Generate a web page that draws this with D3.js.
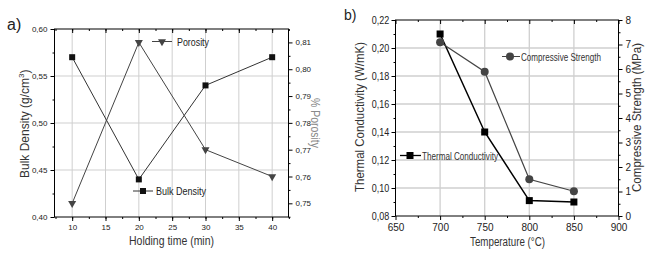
<!DOCTYPE html>
<html><head><meta charset="utf-8">
<script src="https://cdn.jsdelivr.net/npm/d3@7"></script>
<style>body{margin:0;background:#fff}svg{display:block}</style>
</head><body>
<script>
// Panel a data
const holdTime = [10, 20, 30, 40];
const bulkDensity = [0.57, 0.44, 0.54, 0.57];
const porosity = [0.75, 0.81, 0.77, 0.76];
const aXTicks = [10, 15, 20, 25, 30, 35, 40];
const aYTicks = [0.40, 0.45, 0.50, 0.55, 0.60];
const aY2Ticks = [0.75, 0.76, 0.77, 0.78, 0.79, 0.80, 0.81];
// Panel b data
const temperature = [700, 750, 800, 850];
const thermalCond = [0.210, 0.140, 0.091, 0.090];
const compStrength = [7.09, 5.89, 1.50, 1.01];
const bXTicks = [650, 700, 750, 800, 850, 900];
const bYTicks = [0.08, 0.10, 0.12, 0.14, 0.16, 0.18, 0.20, 0.22];
const bY2Ticks = [0, 1, 2, 3, 4, 5, 6, 7, 8];

const FONT = '"Liberation Sans", Arial, sans-serif';
const svg = d3.select("body").append("svg").attr("width", 650).attr("height", 258)
  .style("font-family", FONT);
const fmt = d => d3.format(".2f")(d).replace(".", ",");

function squeeze(sel, len) {
  return sel.attr("textLength", len).attr("lengthAdjust", "spacingAndGlyphs");
}

// ---------- Panel a ----------
{
  const L = 54.5, R = 288.5, T = 29, B = 217;
  const x = d3.scaleLinear().domain([7.35, 42.45]).range([L, R]);
  const y = d3.scaleLinear().domain([0.40, 0.60]).range([B, T]);
  const y2 = d3.scaleLinear().domain([0.7449, 0.815]).range([B, T]);
  const g = svg.append("g");
  g.selectAll(".vg").data(aXTicks).join("line").attr("x1", d => x(d)).attr("x2", d => x(d))
    .attr("y1", T).attr("y2", B).attr("stroke", "#cfcfcf").attr("stroke-width", 1);
  g.selectAll(".hg").data([0.45, 0.50, 0.55]).join("line").attr("y1", d => y(d)).attr("y2", d => y(d))
    .attr("x1", L).attr("x2", R).attr("stroke", "#cfcfcf").attr("stroke-width", 1);
  g.append("rect").attr("x", L).attr("y", T).attr("width", R - L).attr("height", B - T)
    .attr("fill", "none").attr("stroke", "#000").attr("stroke-width", 1);
  const xMinor = d3.range(7.5, 42.6, 2.5);
  const ax = g.append("g").attr("transform", `translate(0,${B})`)
    .call(d3.axisBottom(x).tickValues(aXTicks).tickSize(4).tickFormat(d3.format("d")));
  ax.select(".domain").remove();
  g.append("g").attr("transform", `translate(0,${B})`).call(d3.axisBottom(x).tickValues(xMinor).tickSize(2).tickFormat(""))
    .select(".domain").remove();
  g.append("g").attr("transform", `translate(0,${T})`).call(d3.axisBottom(x).tickValues(aXTicks).tickSize(4).tickFormat(""))
    .select(".domain").remove();
  g.append("g").attr("transform", `translate(0,${T})`).call(d3.axisBottom(x).tickValues(xMinor).tickSize(2).tickFormat(""))
    .select(".domain").remove();
  const ay = g.append("g").attr("transform", `translate(${L},0)`)
    .call(d3.axisLeft(y).tickValues(aYTicks).tickSize(4).tickFormat(fmt));
  ay.select(".domain").remove();
  g.append("g").attr("transform", `translate(${L},0)`).call(d3.axisLeft(y).tickValues([0.425, 0.475, 0.525, 0.575]).tickSize(2).tickFormat(""))
    .select(".domain").remove();
  const ay2 = g.append("g").attr("transform", `translate(${R},0)`)
    .call(d3.axisRight(y2).tickValues(aY2Ticks).tickSize(4).tickFormat(fmt));
  ay2.select(".domain").remove();
  g.append("g").attr("transform", `translate(${R},0)`).call(d3.axisRight(y2).tickValues(d3.range(0.745, 0.815, 0.01)).tickSize(2).tickFormat(""))
    .select(".domain").remove();
  g.selectAll(".tick text").attr("font-size", 8).attr("fill", "#222").style("font-family", FONT);
  ax.selectAll(".tick text").attr("dy", "0.72em");
  const lineB = d3.line().x((d, i) => x(holdTime[i])).y(d => y(d));
  g.append("path").attr("d", lineB(bulkDensity)).attr("fill", "none").attr("stroke", "#333").attr("stroke-width", 1);
  const lineP = d3.line().x((d, i) => x(holdTime[i])).y(d => y2(d));
  g.append("path").attr("d", lineP(porosity)).attr("fill", "none").attr("stroke", "#444").attr("stroke-width", 1);
  g.selectAll(".sq").data(bulkDensity).join("rect").attr("x", (d, i) => x(holdTime[i]) - 3).attr("y", d => y(d) - 3)
    .attr("width", 6).attr("height", 6).attr("fill", "#111");
  const tri = d3.symbol().type(d3.symbolTriangle).size(28);
  g.selectAll(".tr").data(porosity).join("path").attr("d", tri)
    .attr("transform", (d, i) => `translate(${x(holdTime[i])},${y2(d)}) rotate(180)`).attr("fill", "#444");
  // legends
  g.append("line").attr("x1", 152).attr("x2", 172).attr("y1", 41.5).attr("y2", 41.5).attr("stroke", "#444");
  g.append("path").attr("d", tri).attr("transform", "translate(162,41.5) rotate(180)").attr("fill", "#444");
  squeeze(g.append("text").attr("x", 177).attr("y", 45.5).attr("font-size", 11.5).attr("fill", "#222").text("Porosity"), 32);
  g.append("line").attr("x1", 133).attr("x2", 153).attr("y1", 191).attr("y2", 191).attr("stroke", "#333");
  g.append("rect").attr("x", 140).attr("y", 188).attr("width", 6).attr("height", 6).attr("fill", "#111");
  squeeze(g.append("text").attr("x", 156).attr("y", 195).attr("font-size", 11.5).attr("fill", "#222").text("Bulk Density"), 50);
  // titles
  squeeze(g.append("text").attr("x", 129).attr("y", 245).attr("font-size", 12).attr("fill", "#333").text("Holding time (min)"), 85);
  const yt = g.append("text").attr("transform", "translate(29,178) rotate(-90)").attr("font-size", 12).attr("fill", "#333");
  yt.append("tspan").text("Bulk Density (g/cm");
  yt.append("tspan").attr("font-size", 8).attr("dy", -5).text("3");
  yt.append("tspan").attr("dy", 5).text(")");
  squeeze(g.append("text").attr("transform", "translate(311,98) rotate(90)").attr("font-size", 12).attr("fill", "#8a8a8a").text("% Porosity"), 50);
  g.append("text").attr("x", 7).attr("y", 30).attr("font-size", 16).attr("fill", "#222").text("a)");
}

// ---------- Panel b ----------
{
  const L = 395.5, R = 618.5, T = 20, B = 216;
  const x = d3.scaleLinear().domain([650, 900]).range([L, R]);
  const y = d3.scaleLinear().domain([0.08, 0.22]).range([B, T]);
  const y2 = d3.scaleLinear().domain([0, 8]).range([B, T]);
  const g = svg.append("g");
  g.selectAll(".vg").data([700, 750, 800, 850]).join("line").attr("x1", d => x(d)).attr("x2", d => x(d))
    .attr("y1", T).attr("y2", B).attr("stroke", "#cfcfcf").attr("stroke-width", 1.3);
  g.selectAll(".hg").data([0.10, 0.12, 0.14, 0.16, 0.18, 0.20]).join("line").attr("y1", d => y(d)).attr("y2", d => y(d))
    .attr("x1", L).attr("x2", R).attr("stroke", "#cfcfcf").attr("stroke-width", 1.3);
  g.append("rect").attr("x", L).attr("y", T).attr("width", R - L).attr("height", B - T)
    .attr("fill", "none").attr("stroke", "#000").attr("stroke-width", 1);
  const xMinor = d3.range(675, 900, 50);
  const ax = g.append("g").attr("transform", `translate(0,${B})`)
    .call(d3.axisBottom(x).tickValues(bXTicks).tickSize(4).tickFormat(d3.format("d")));
  ax.select(".domain").remove();
  g.append("g").attr("transform", `translate(0,${B})`).call(d3.axisBottom(x).tickValues(xMinor).tickSize(2).tickFormat(""))
    .select(".domain").remove();
  g.append("g").attr("transform", `translate(0,${T})`).call(d3.axisBottom(x).tickValues(bXTicks).tickSize(4).tickFormat(""))
    .select(".domain").remove();
  g.append("g").attr("transform", `translate(0,${T})`).call(d3.axisBottom(x).tickValues(xMinor).tickSize(2).tickFormat(""))
    .select(".domain").remove();
  const ay = g.append("g").attr("transform", `translate(${L},0)`)
    .call(d3.axisLeft(y).tickValues(bYTicks).tickSize(4).tickFormat(fmt));
  ay.select(".domain").remove();
  g.append("g").attr("transform", `translate(${L},0)`).call(d3.axisLeft(y).tickValues(d3.range(0.09, 0.22, 0.02)).tickSize(2).tickFormat(""))
    .select(".domain").remove();
  const ay2 = g.append("g").attr("transform", `translate(${R},0)`)
    .call(d3.axisRight(y2).tickValues(bY2Ticks).tickSize(4).tickFormat(d3.format("d")));
  ay2.select(".domain").remove();
  g.append("g").attr("transform", `translate(${R},0)`).call(d3.axisRight(y2).tickValues(d3.range(0.5, 8, 1)).tickSize(2).tickFormat(""))
    .select(".domain").remove();
  g.selectAll(".tick text").attr("font-size", 10).attr("fill", "#222").style("font-family", FONT);
  ay.selectAll(".tick text").attr("transform", "scale(0.9,1)");
  ax.selectAll(".tick text").attr("dy", "0.8em");
  const lineT = d3.line().x((d, i) => x(temperature[i])).y(d => y(d));
  g.append("path").attr("d", lineT(thermalCond)).attr("fill", "none").attr("stroke", "#000").attr("stroke-width", 1.5);
  const lineC = d3.line().x((d, i) => x(temperature[i])).y(d => y2(d));
  g.append("path").attr("d", lineC(compStrength)).attr("fill", "none").attr("stroke", "#444").attr("stroke-width", 1.2);
  g.selectAll(".sq").data(thermalCond).join("rect").attr("x", (d, i) => x(temperature[i]) - 3.5).attr("y", d => y(d) - 3.5)
    .attr("width", 7).attr("height", 7).attr("fill", "#000");
  g.selectAll(".ci").data(compStrength).join("circle").attr("cx", (d, i) => x(temperature[i])).attr("cy", d => y2(d))
    .attr("r", 4).attr("fill", "#444");
  // legends
  g.append("line").attr("x1", 502).attr("x2", 520).attr("y1", 56.5).attr("y2", 56.5).attr("stroke", "#444");
  g.append("circle").attr("cx", 510).attr("cy", 56.5).attr("r", 4).attr("fill", "#444");
  squeeze(g.append("text").attr("x", 521).attr("y", 60.5).attr("font-size", 11).attr("fill", "#333").text("Compressive Strength"), 80);
  g.append("line").attr("x1", 400).attr("x2", 421).attr("y1", 155.5).attr("y2", 155.5).attr("stroke", "#000").attr("stroke-width", 1.3);
  g.append("rect").attr("x", 406.5).attr("y", 152).attr("width", 7).attr("height", 7).attr("fill", "#000");
  squeeze(g.append("text").attr("x", 422).attr("y", 159.5).attr("font-size", 11).attr("fill", "#333").text("Thermal Conductivity"), 76);
  squeeze(g.append("text").attr("x", 470).attr("y", 246).attr("font-size", 12).attr("fill", "#333").text("Temperature (°C)"), 75);
  squeeze(g.append("text").attr("transform", "translate(364,192) rotate(-90)").attr("font-size", 12).attr("fill", "#333").text("Thermal Conductivity (W/mK)"), 150);
  squeeze(g.append("text").attr("transform", "translate(641,192) rotate(-90)").attr("font-size", 12).attr("fill", "#333").text("Compressive Strength (MPa)"), 149);
  g.append("text").attr("x", 344).attr("y", 20).attr("font-size", 14).attr("fill", "#222").text("b)");
}
</script>
</body></html>
